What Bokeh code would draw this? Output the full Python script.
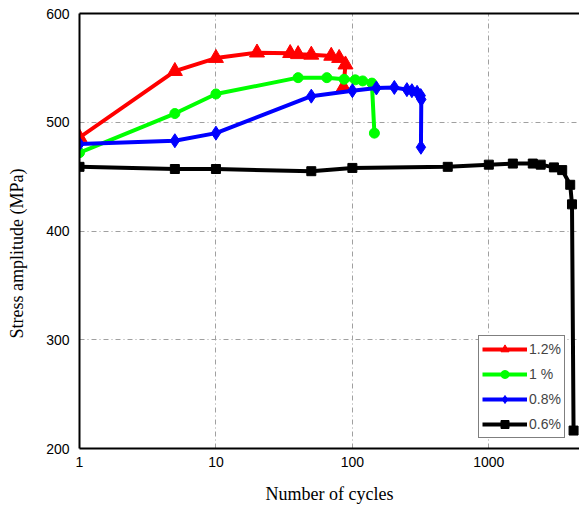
from bokeh.plotting import figure
from bokeh.models import Range1d, FixedTicker, LogAxis, Legend
from bokeh.embed import file_html
from bokeh.resources import INLINE

# 1.2 % strain
cyc_12 = [1, 5, 10, 20, 35, 40, 50, 70, 80, 89, 86]
s_12 = [486, 547, 559, 564, 563.5, 562.5, 562, 561, 559, 553, 532]
# 1 % strain
cyc_10 = [1, 5, 10, 40, 65, 87, 105, 119, 139, 145]
s_10 = [472, 508, 526, 541, 541, 539.5, 539, 538, 536, 490]
# 0.8 % strain
cyc_08 = [1, 5, 10, 50, 100, 150, 203, 251, 273, 298, 317, 320, 318]
s_08 = [480, 483, 490, 524, 529, 531.5, 532, 530, 529, 527.5, 524.5, 521, 477]
# 0.6 % strain
cyc_06 = [1, 5, 10, 50, 100, 500, 1000, 1500, 2100, 2400, 3000, 3450, 3950, 4070, 4180]
s_06 = [459, 457, 457, 455, 458, 459, 461, 462, 462, 461, 458.5, 456, 442.5, 424.5, 216.5]

x_ticks = [1, 10, 100, 1000]
y_ticks = [200, 300, 400, 500, 600]

p = figure(width=579, height=509, x_axis_type="log",
           x_range=Range1d(1, 4620), y_range=Range1d(200, 600),
           output_backend="svg", toolbar_location=None,
           min_border_left=79, min_border_right=0, min_border_top=13, min_border_bottom=61)
p.outline_line_color = None

p.xaxis.ticker = FixedTicker(ticks=x_ticks)
p.xaxis.major_label_overrides = {t: str(t) for t in x_ticks}
p.yaxis.ticker = FixedTicker(ticks=y_ticks)

for ax in (p.xaxis[0], p.yaxis[0]):
    ax.axis_line_width = 2
    ax.axis_line_color = "black"
    ax.major_tick_in = 0
    ax.major_tick_out = 0
    ax.minor_tick_in = 0
    ax.minor_tick_out = 0
    ax.major_label_text_font = "Liberation Sans"
    ax.major_label_text_font_size = "14px"
    ax.major_label_text_color = "black"
    ax.axis_label_text_font = "Liberation Serif"
    ax.axis_label_text_font_size = "18px"
    ax.axis_label_text_font_style = "normal"
    ax.axis_label_text_color = "black"

p.xaxis.axis_label = "Number of cycles"
p.yaxis.axis_label = "Stress amplitude (MPa)" + "\u00a0" * 10
p.xaxis.major_label_standoff = 8
p.yaxis.major_label_standoff = 10
p.xaxis.axis_label_standoff = 14
p.yaxis.axis_label_standoff = 16

top = LogAxis(ticker=FixedTicker(ticks=[]), axis_line_width=2, axis_line_color="black",
              major_tick_in=0, major_tick_out=0, minor_tick_in=0, minor_tick_out=0)
p.add_layout(top, "above")

for g in (p.xgrid[0], p.ygrid[0]):
    g.grid_line_color = "#a0a0a0"
    g.grid_line_dash = "5 3 1 3"
    g.grid_line_width = 1

r1 = p.line(cyc_12, s_12, color="#ff0000", line_width=4)
m1 = p.scatter(cyc_12, s_12, marker="triangle", size=15, color="#ff0000")
r2 = p.line(cyc_10, s_10, color="#00ff00", line_width=4)
m2 = p.scatter(cyc_10, s_10, marker="circle", size=10, color="#00ff00")
r3 = p.line(cyc_08, s_08, color="#0000ff", line_width=4)
m3 = p.scatter(cyc_08, s_08, marker="diamond", size=14, color="#0000ff")
r4 = p.line(cyc_06, s_06, color="black", line_width=4)
m4 = p.scatter(cyc_06, s_06, marker="square", size=9, color="black")

legend = Legend(items=[("1.2%", [r1, m1]), ("1 %", [r2, m2]), ("0.8%", [r3, m3]), ("0.6%", [r4, m4])],
                location=(399, 10), glyph_width=45, glyph_height=20, label_height=20,
                spacing=5, padding=3, margin=0, label_standoff=2,
                label_text_font="Liberation Sans", label_text_font_size="14px",
                border_line_color="black", border_line_width=1, background_fill_alpha=1)
p.add_layout(legend, "center")

open("out.html", "w").write(file_html(p, INLINE))
